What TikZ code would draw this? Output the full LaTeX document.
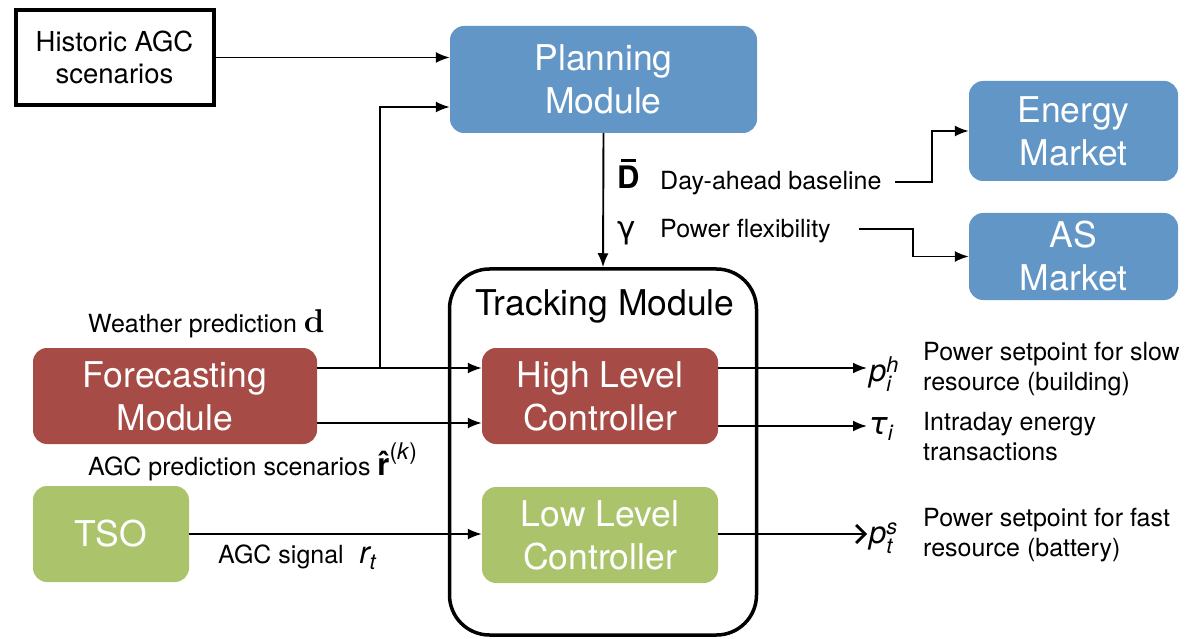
\documentclass[tikz,border=0pt]{standalone}
\usepackage{amsmath}
\usepackage{fontspec}
\setmainfont{TeX Gyre Heros}
\newfontfamily\greekf{DejaVu Sans}
\newfontfamily\lmrf{Latin Modern Roman}
\usetikzlibrary{arrows.meta}
\definecolor{pblue}{RGB}{97,150,199}
\definecolor{pred}{RGB}{166,75,69}
\definecolor{pgreen}{RGB}{171,196,108}
\begin{document}
\begin{tikzpicture}[x=1pt,y=-1pt,
  box/.style={rounded corners=14pt,inner sep=0pt,align=center,text=white,font=\fontsize{35.5}{43}\selectfont},
  arr/.style={line width=1.9pt,-{Latex[length=14pt,width=11pt]}},
  lbl/.style={inner sep=0pt,anchor=west,font=\fontsize{25}{30}\selectfont,align=left},
  mth/.style={inner sep=0pt,anchor=west,font=\fontsize{31}{36}\selectfont}]
\useasboundingbox (0,0) rectangle (1189,639);
% nodes
\node[draw,line width=4pt,inner sep=0pt,minimum width=198pt,minimum height=95pt,align=center,font=\fontsize{27.5}{32}\selectfont] (hist) at (114.5,57.5) {Historic AGC\\scenarios};
\node[box,fill=pblue,minimum width=307pt,minimum height=107pt] (plan) at (603.5,79.5) {Planning\\Module};
\node[box,fill=pblue,minimum width=209pt,minimum height=100pt] (energy) at (1073.5,131) {Energy\\Market};
\node[box,fill=pblue,minimum width=209pt,minimum height=87pt] (as) at (1073.5,256.5) {AS\\Market};
\node[draw,line width=3.5pt,rounded corners=40pt,minimum width=307pt,minimum height=366pt,inner sep=0pt] (track) at (603,452) {};
\node[inner sep=0pt,font=\fontsize{35.5}{40}\selectfont] (tracktitle) at (605,306) {Tracking Module};
\node[box,fill=pred,minimum width=236pt,minimum height=96pt] (high) at (600,396) {High Level\\Controller};
\node[box,fill=pgreen,minimum width=236pt,minimum height=96pt] (low) at (600,535) {Low Level\\Controller};
\node[box,fill=pred,minimum width=284pt,minimum height=96pt] (fore) at (175,396) {Forecasting\\Module};
\node[box,fill=pgreen,minimum width=156pt,minimum height=96pt] (tso) at (111,534) {TSO};
% helper coordinates
\coordinate (yA) at (0,368);
\coordinate (yB) at (0,423);
\coordinate (yC) at (0,107);
\coordinate (br) at (380,368);
\coordinate (ph) at (867,368);
\coordinate (tau) at (867,426);
\coordinate (ps) at (867,534);
\coordinate (dl) at (895,182);
\coordinate (gl) at (859,229);
% labels
\node[mth] (dbar) at (617,177) {\textbf{D}};
\draw[line width=2.5pt] ([yshift=5pt,xshift=4pt]dbar.north west) -- ([yshift=5pt,xshift=-4pt]dbar.north east);
\node[lbl] (dtext) at (660,183) {Day-ahead baseline};
\node[mth] (gam) at (617,233) {\greekf γ};
\node[lbl] (gtext) at (660,231) {Power flexibility};
\node[lbl] (wtext) at (88,324) {Weather prediction {\fontsize{33}{36}\selectfont\lmrf\bfseries d}};
\node[lbl] (rtext) at (88,462) {AGC prediction scenarios {\fontsize{31}{36}\selectfont\textbf{\rlap{\raisebox{0.04em}{\kern0.03em ˆ}}r}\raisebox{0.5em}{\fontsize{23}{26}\selectfont(\textit{k})}}};
\node[lbl] (atext) at (218,557) {AGC signal \fontsize{31}{36}\selectfont\ $\textit{r}_{\textit{t}}$};
\node[mth] (phl) at (869,374) {$\textit{p}_{\textit{i}}^{\textit{h}}$};
\node[mth] (taul) at (869,429) {$\text{\greekf\itshape τ}_{\textit{i}}$};
\node[mth] (psl) at (869,538) {$\textit{p}_{\textit{t}}^{\textit{s}}$};
\node[lbl] (pht) at (923,369) {Power setpoint for slow\\resource (building)};
\node[lbl] (taut) at (923,437) {Intraday energy\\transactions};
\node[lbl] (pst) at (923,535) {Power setpoint for fast\\resource (battery)};
% connectors
\draw[arr] (hist.east) -- (plan.west |- hist.east);
\draw[arr] (br) |- (plan.west |- yC);
\draw[arr] (fore.east |- yA) -- (high.west |- yA);
\draw[arr] (fore.east |- yB) -- (high.west |- yB);
\draw[arr] (tso.east) -- (low.west |- tso.east);
\draw[arr] (plan.south) -- (track.north);
\draw[arr] (high.east |- ph) -- (ph);
\draw[arr] (high.east |- tau) -- (tau);
\draw[line width=1.9pt,-{Straight Barb[length=9pt,width=18pt,line width=2.8pt]}] (low.east |- ps) -- (ps);
\draw[arr] (dl) -- ++(37,0) |- (energy.west);
\draw[arr] (gl) -- ++(54,0) |- (as.west);
\end{tikzpicture}
\end{document}
